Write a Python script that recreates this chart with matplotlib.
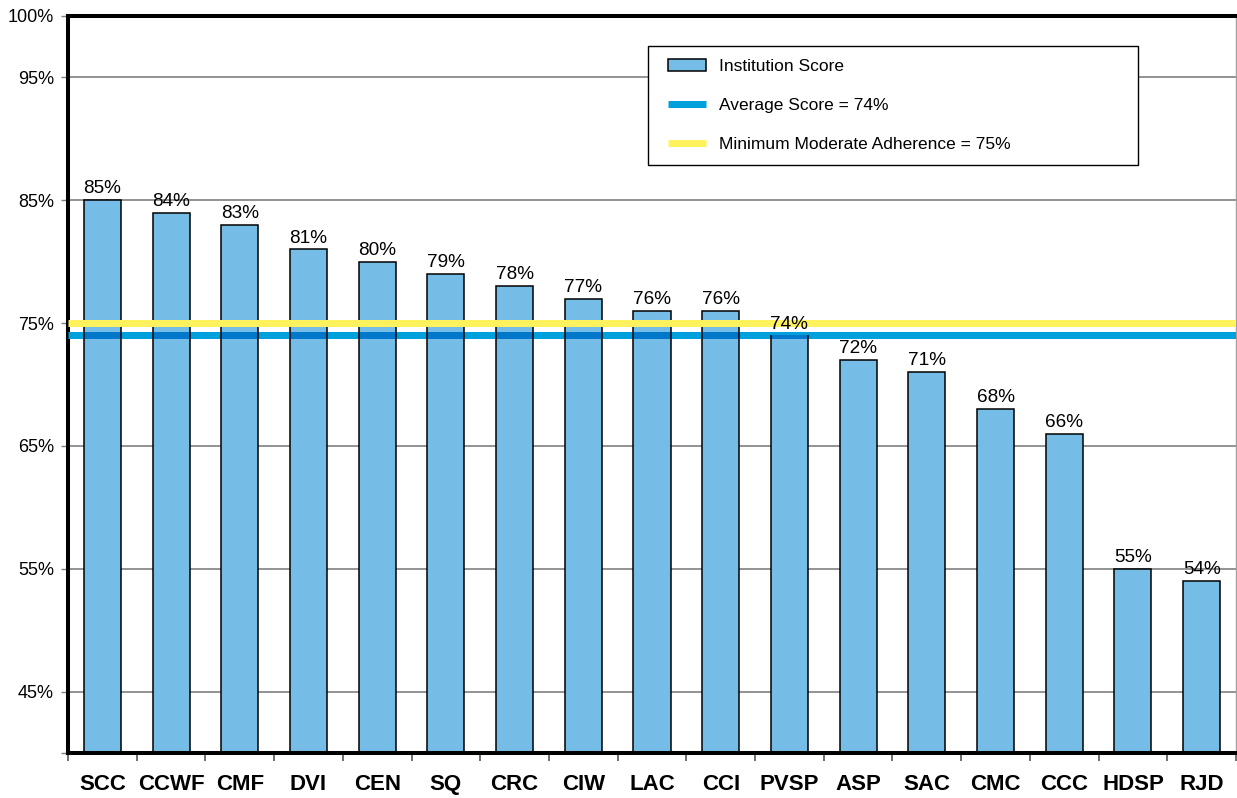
import matplotlib
matplotlib.use('Agg')
import matplotlib.pyplot as plt
from matplotlib.patches import Patch
from matplotlib.lines import Line2D
from matplotlib.legend_handler import HandlerPatch, HandlerLine2D
import numpy as np

# ---------------- data ----------------
categories = ['SCC', 'CCWF', 'CMF', 'DVI', 'CEN', 'SQ', 'CRC', 'CIW', 'LAC',
              'CCI', 'PVSP', 'ASP', 'SAC', 'CMC', 'CCC', 'HDSP', 'RJD']
scores = [85, 84, 83, 81, 80, 79, 78, 77, 76, 76, 74, 72, 71, 68, 66, 55, 54]
average_score = 74
minimum_adherence = 75
y_ticks = [40, 45, 55, 65, 75, 85, 95, 100]
y_tick_labels = ['', '45%', '55%', '65%', '75%', '85%', '95%', '100%']
legend_labels = ['Institution Score', 'Average Score = 74%',
                 'Minimum Moderate Adherence = 75%']

# ---------------- style ----------------
plt.rcParams['font.family'] = ['Liberation Sans', 'DejaVu Sans']
BAR_COLOR = '#75BDE7'
AVG_COLOR = '#00A0DC'
AVG_DARK = '#0077C8'
MIN_COLOR = '#FFF25C'
GRID_COLOR = '#808080'

W, H, DPI = 1237, 798, 100
fig = plt.figure(figsize=(W / DPI, H / DPI), dpi=DPI)
ax_l, ax_r, ax_t, ax_b = 68, 1236, 16, 753
ax = fig.add_axes([ax_l / W, 1 - ax_b / H, (ax_r - ax_l) / W, (ax_b - ax_t) / H])

ymin, ymax = y_ticks[0], y_ticks[-1]
x = np.arange(len(categories))
sc = np.array(scores, dtype=float)
bar_w = 0.54
line_px = 7
line_pt = line_px * 72 / DPI
px_per_unit = (ax_b - ax_t) / (ymax - ymin)
half_band = line_px / 2 / px_per_unit

bars = ax.bar(x, sc, width=bar_w, color=BAR_COLOR, edgecolor='black',
              linewidth=1.1, zorder=2)
ax.bar_label(bars, labels=[f'{int(v)}%' for v in scores], padding=2,
             fontsize=13.7, color='black', zorder=10)

# reference lines
ax.axhline(average_score, color=AVG_COLOR, lw=line_pt, zorder=3,
           solid_capstyle='butt')
# darker tone where the average line crosses the bars (multiply look)
band_lo = average_score - half_band
band_hi = np.minimum(sc, average_score + half_band)
mask = band_hi > band_lo
ax.bar(x[mask], (band_hi - band_lo)[mask], bottom=band_lo, width=bar_w,
       color=AVG_DARK, linewidth=0, zorder=3.5)
ax.vlines(np.concatenate([x[mask] - bar_w / 2, x[mask] + bar_w / 2]),
          np.concatenate([np.full(mask.sum(), band_lo)] * 2),
          np.concatenate([band_hi[mask]] * 2),
          color='black', lw=1.1, zorder=3.6)
ax.axhline(minimum_adherence, color=MIN_COLOR, lw=line_pt, zorder=4,
           solid_capstyle='butt')

ax.set_xlim(-0.5, len(categories) - 0.5)
ax.set_ylim(ymin, ymax)

# y axis
ax.set_yticks(y_ticks)
ax.set_yticklabels(y_tick_labels, fontsize=13)
ax.tick_params(axis='y', length=5, width=1, color=GRID_COLOR, pad=5)
ax.yaxis.grid(True, color=GRID_COLOR, lw=1.2)
ax.set_axisbelow(True)

# x axis: ticks at boundaries, labels at centres
ax.set_xticks(np.arange(len(categories) + 1) - 0.5)
ax.set_xticklabels([])
ax.set_xticks(x, minor=True)
ax.set_xticklabels(categories, minor=True, fontsize=16, fontweight='bold')
ax.tick_params(axis='x', which='major', length=6, width=1.2, color='#555555')
ax.tick_params(axis='x', which='minor', length=0, pad=15)

for side in ['left', 'top', 'bottom']:
    ax.spines[side].set_linewidth(2.9)
    ax.spines[side].set_color('black')
ax.spines['right'].set_linewidth(1.0)
ax.spines['right'].set_color('#a0a0a0')

# legend
handles = [Patch(facecolor=BAR_COLOR, edgecolor='black', linewidth=1.1),
           Line2D([], [], color=AVG_COLOR, lw=line_pt, solid_capstyle='butt'),
           Line2D([], [], color=MIN_COLOR, lw=line_pt, solid_capstyle='butt')]
ax_w = ax_r - ax_l
ax_h = ax_b - ax_t
xpad = 0.4
leg = ax.legend(handles, legend_labels, loc='upper left',
                bbox_to_anchor=((648 - ax_l) / ax_w, (ax_b - 47) / ax_h,
                                (1138 - 648) / ax_w, 0.001),
                mode='expand', fontsize=12.5, frameon=True, fancybox=False,
                framealpha=1, edgecolor='black', handlelength=2.2 + xpad,
                handleheight=0.63, handletextpad=0.75, labelspacing=1.38,
                borderpad=0.75, borderaxespad=0,
                handler_map={Patch: HandlerPatch(xpad=xpad),
                             Line2D: HandlerLine2D(xpad=xpad)})
leg.get_frame().set_linewidth(1.0)
leg.set_zorder(10)

fig.savefig('out.png', dpi=DPI)
